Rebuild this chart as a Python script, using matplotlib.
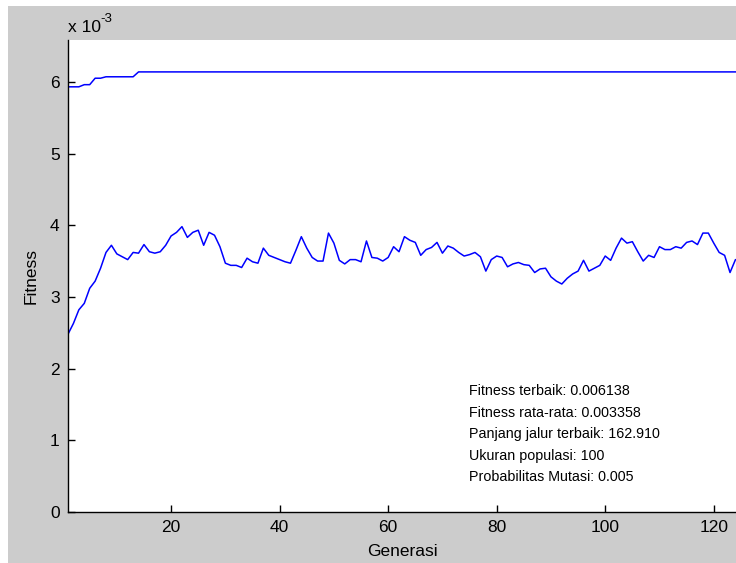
import numpy as np
import matplotlib
matplotlib.use("Agg")
import matplotlib.pyplot as plt
from matplotlib.patches import Rectangle

plt.rcParams['font.family'] = ['Liberation Sans', 'DejaVu Sans']

# values in units of 1e-3
best_fitness_e3 = [5.93, 5.93, 5.93, 5.96, 5.96, 6.05, 6.05, 6.07, 6.07, 6.07,
                   6.07, 6.07, 6.07] + [6.138] * 112
avg_fitness_e3 = [2.48, 2.63, 2.82, 2.91, 3.12, 3.22, 3.40, 3.62, 3.72, 3.60,
                  3.56, 3.52, 3.62, 3.61, 3.73, 3.63, 3.61, 3.63, 3.72, 3.85,
                  3.90, 3.98, 3.83, 3.90, 3.93, 3.72, 3.90, 3.86, 3.70, 3.47,
                  3.44, 3.44, 3.41, 3.54, 3.49, 3.47, 3.68, 3.58, 3.55, 3.52,
                  3.49, 3.47, 3.65, 3.84, 3.68, 3.55, 3.50, 3.50, 3.89, 3.75,
                  3.51, 3.46, 3.52, 3.52, 3.49, 3.78, 3.55, 3.54, 3.50, 3.55,
                  3.70, 3.63, 3.84, 3.79, 3.76, 3.58, 3.66, 3.69, 3.76, 3.61,
                  3.71, 3.68, 3.62, 3.57, 3.59, 3.62, 3.56, 3.36, 3.52, 3.57,
                  3.55, 3.42, 3.46, 3.48, 3.45, 3.44, 3.34, 3.39, 3.40, 3.28,
                  3.22, 3.18, 3.26, 3.32, 3.36, 3.51, 3.36, 3.40, 3.44, 3.57,
                  3.51, 3.68, 3.82, 3.75, 3.77, 3.63, 3.50, 3.58, 3.55, 3.70,
                  3.66, 3.66, 3.70, 3.68, 3.76, 3.78, 3.73, 3.89, 3.89, 3.75,
                  3.62, 3.58, 3.34, 3.52, 3.50]
generations = np.arange(1, len(avg_fitness_e3) + 1)
x_ticks = [20, 40, 60, 80, 100, 120]
y_ticks = [0, 1, 2, 3, 4, 5, 6]
info_lines = ["Fitness terbaik: 0.006138",
              "Fitness rata-rata: 0.003358",
              "Panjang jalur terbaik: 162.910",
              "Ukuran populasi: 100",
              "Probabilitas Mutasi: 0.005"]

W, H = 736, 563
fig = plt.figure(figsize=(W / 100, H / 100), dpi=100)
fig.patch.set_facecolor('white')
bg = Rectangle((8 / W, 0), 1 - 8 / W, 1 - 6 / H, transform=fig.transFigure,
               facecolor='#cccccc', edgecolor='none', zorder=-10)
fig.patches.append(bg)

ax = fig.add_axes([68 / W, 51 / H, 1 - 68 / W, 472 / H], zorder=1)
ax.set_facecolor('white')
ax.plot(generations, best_fitness_e3, color='#0000ff', lw=1.1)
ax.plot(generations, avg_fitness_e3, color='#0000ff', lw=1.1)
ax.set_xlim(1, 124.1)
ax.set_ylim(0, 6.583)
ax.set_xticks(x_ticks)
ax.set_yticks(y_ticks)
for s in ['top', 'right']:
    ax.spines[s].set_visible(False)
for s in ['left', 'bottom']:
    ax.spines[s].set_linewidth(1.0)
    ax.spines[s].set_color('black')
ax.tick_params(direction='in', length=5, width=1, labelsize=12.5, pad=6)
ax.set_xlabel('Generasi', fontsize=12.5, labelpad=6)
ax.set_ylabel('Fitness', fontsize=12.5, labelpad=8)

fig.text(68 / W, 1 - 32 / H, 'x 10', fontsize=12.5, ha='left', va='baseline', zorder=2)
fig.text(100 / W, 1 - 22 / H, '-3', fontsize=9.5, ha='left', va='baseline', zorder=2)

for i, line in enumerate(info_lines):
    fig.text(469 / W, 1 - (391 + 21.6 * i) / H, line, fontsize=10.3, ha='left', va='center', zorder=2)

fig.savefig('out.png', dpi=100, facecolor=fig.get_facecolor())
